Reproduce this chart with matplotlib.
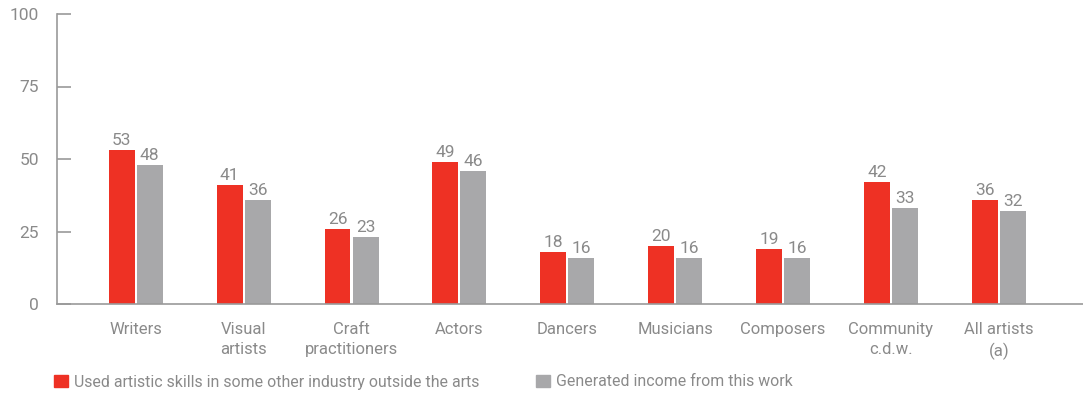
import numpy as np
import matplotlib.pyplot as plt
from matplotlib.patches import Patch

# Datos
categorias = ["Writers", "Visual\nartists", "Craft\npractitioners", "Actors", "Dancers",
              "Musicians", "Composers", "Community\nc.d.w.", "All artists\n(a)"]
otra_industria = [53, 41, 26, 49, 18, 20, 19, 42, 36]
ingresos = [48, 36, 23, 46, 16, 16, 16, 33, 32]
etiqueta_rojo = "Used artistic skills in some other industry outside the arts"
etiqueta_gris = "Generated income from this work"

ROJO = "#EE3124"
GRIS = "#A8A8AA"
TEXTO = "#8A8A8A"
EJE = "#9A9A9A"

plt.rcParams['font.family'] = ['Roboto', 'DejaVu Sans']

fig = plt.figure(figsize=(10.83, 3.94), dpi=100)
ax = fig.add_axes([57 / 1083, 90 / 394, 1 - 57 / 1083, 290 / 394])

x = np.arange(len(categorias))
ancho = 0.24
desp = 0.13
b1 = ax.bar(x - desp, otra_industria, ancho, color=ROJO)
b2 = ax.bar(x + desp, ingresos, ancho, color=GRIS)

# Valores encima de cada barra
for barras in (b1, b2):
    for b in barras:
        ax.annotate(f"{b.get_height():.0f}", (b.get_x() + b.get_width() / 2, b.get_height()),
                    xytext=(0, 1.5), textcoords="offset points", ha="center", va="bottom",
                    fontsize=12.5, color=TEXTO)

ax.set_xlim(-0.73, 8.78)
ax.set_ylim(0, 100)
ax.set_yticks([0, 25, 50, 75, 100])
ax.set_xticks(x)
ax.set_xticklabels(categorias, fontsize=12, color=TEXTO, linespacing=1.4)
ax.tick_params(axis="x", length=0, pad=13)
ax.tick_params(axis="y", direction="in", length=10, width=1.2, color=EJE,
               labelsize=12.5, labelcolor=TEXTO, pad=13)

for lado in ("top", "right"):
    ax.spines[lado].set_visible(False)
for lado in ("left", "bottom"):
    ax.spines[lado].set_color(EJE)
    ax.spines[lado].set_linewidth(1.2)

fig.legend(handles=[Patch(color=ROJO, label=etiqueta_rojo),
                    Patch(color=GRIS, label=etiqueta_gris)],
           loc="center left", bbox_to_anchor=(40 / 1083, 1 - 382 / 394), ncol=2,
           frameon=False, fontsize=11.4, labelcolor=TEXTO, handlelength=0.85,
           handleheight=0.85, handletextpad=0.4, columnspacing=3.6)

fig.savefig("out.png", dpi=100)
